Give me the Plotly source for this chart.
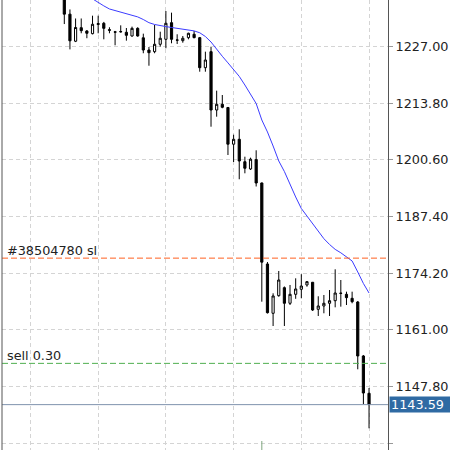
import plotly.graph_objects as go

# ---- data ----
candle_index = list(range(55))
opens = [1239.5, 1234.5, 1228.2, 1231.35, 1230.59, 1229.96, 1232.1, 1232.38, 1230.9, 1230.4,
         1230.47, 1230.28, 1229.42, 1231.2, 1229.0, 1226.16, 1225.77, 1227.49, 1228.65, 1232.52,
         1228.5, 1228.33, 1229.03, 1229.82, 1229.03, 1222.04, 1225.77, 1212.19, 1213.52, 1212.77,
         1204.23, 1205.37, 1200.15, 1198.46, 1200.64, 1195.2, 1176.34, 1164.86, 1168.96, 1170.82,
         1167.19, 1169.28, 1170.45, 1171.45, 1172.08, 1165.79, 1166.56, 1167.19, 1167.79, 1169.47,
         1169.28, 1168.35, 1167.49, 1154.92, 1146.23]
highs = [1240.2, 1235.6, 1233.5, 1233.5, 1230.8, 1234.15, 1234.15, 1232.7, 1231.45, 1230.6,
         1231.9, 1231.28, 1231.6, 1231.45, 1229.96, 1226.86, 1231.98, 1230.42, 1235.24, 1234.85,
         1229.82, 1229.42, 1230.19, 1230.59, 1229.19, 1225.77, 1226.93, 1216.69, 1215.68, 1212.9,
         1206.44, 1207.7, 1201.32, 1201.09, 1202.81, 1195.3, 1176.8, 1169.51, 1174.71, 1171.1,
         1171.45, 1173.0, 1173.96, 1172.38, 1172.15, 1168.82, 1169.12, 1170.28, 1175.1, 1172.61,
         1169.89, 1169.89, 1167.72, 1155.15, 1147.47]
lows = [1232.2, 1226.3, 1228.0, 1230.05, 1228.9, 1229.8, 1230.05, 1228.65, 1230.05, 1227.25,
        1230.2, 1228.33, 1229.26, 1229.26, 1225.4, 1222.5, 1225.4, 1226.93, 1226.56, 1227.72,
        1227.56, 1227.86, 1228.65, 1228.89, 1221.11, 1221.11, 1208.3, 1210.63, 1212.59, 1201.71,
        1200.08, 1196.06, 1197.45, 1198.22, 1194.38, 1167.56, 1164.8, 1161.9, 1168.72, 1161.9,
        1166.79, 1168.23, 1168.35, 1171.05, 1165.4, 1164.23, 1164.86, 1164.23, 1166.25, 1166.4,
        1166.79, 1167.19, 1151.82, 1143.7, 1138.08]
closes = [1234.5, 1228.3, 1231.4, 1230.66, 1230.05, 1232.15, 1232.3, 1231.2, 1230.75, 1230.3,
          1230.4, 1229.58, 1231.2, 1229.42, 1226.16, 1225.53, 1227.49, 1228.89, 1232.38, 1228.65,
          1228.45, 1228.89, 1230.05, 1229.03, 1222.04, 1223.83, 1212.19, 1213.52, 1212.82, 1204.23,
          1205.37, 1200.32, 1198.62, 1200.74, 1195.2, 1176.76, 1165.0, 1168.89, 1172.61, 1167.19,
          1169.28, 1170.52, 1171.21, 1172.22, 1165.63, 1166.56, 1167.19, 1167.79, 1169.58, 1169.54,
          1168.5, 1167.56, 1154.92, 1146.3, 1143.59]

ma_index = list(range(5, 55))
ma_values = [1238.07, 1237.2, 1236.43, 1235.71, 1235.34, 1235.01, 1234.68, 1234.31, 1233.87, 1233.26,
             1232.52, 1232.1, 1231.8, 1231.61, 1231.4, 1231.19, 1231.05, 1230.91, 1230.61, 1230.17,
             1229.3, 1228.02, 1226.3, 1224.7, 1223.16, 1221.55, 1220.02, 1218.01, 1215.92, 1213.7,
             1209.86, 1207.07, 1203.81, 1200.32, 1197.87, 1194.73, 1191.94, 1189.26, 1187.51, 1185.77,
             1183.91, 1182.23, 1180.88, 1179.74, 1178.94, 1177.97, 1177.04, 1174.48, 1171.8, 1169.58]

y_ticks = [1134.6, 1147.8, 1161.0, 1174.2, 1187.4, 1200.6, 1213.8, 1227.0]
x_grid = [-6, 6, 18, 30, 42, 54]

sl_price = 1177.7
sl_label = "#38504780 sl"
sell_price = 1153.2
sell_label = "sell 0.30"
bid_price = 1143.59
entry_index = 35

FONT = "DejaVu Sans"

fig = go.Figure()

fig.add_trace(go.Candlestick(
    x=candle_index, open=opens, high=highs, low=lows, close=closes,
    increasing=dict(line=dict(color="black", width=1), fillcolor="white"),
    decreasing=dict(line=dict(color="black", width=1), fillcolor="black"),
    whiskerwidth=0, hoverinfo="skip", showlegend=False,
))

fig.add_trace(go.Scatter(
    x=ma_index, y=ma_values, mode="lines",
    line=dict(color="#3c3cff", width=1), hoverinfo="skip", showlegend=False,
))

# reference lines
fig.add_hline(y=sl_price, line=dict(color="#ff6020", width=1, dash="6px,3px"))
fig.add_hline(y=sell_price, line=dict(color="#4fae4f", width=1, dash="6px,3px"))
fig.add_hline(y=bid_price, line=dict(color="#7f93ad", width=1))

# left border
fig.add_shape(type="line", xref="paper", yref="paper", x0=0, x1=0, y0=0, y1=1,
              line=dict(color="#555555", width=1))

# entry marker at bottom
fig.add_shape(type="line", xref="x", yref="paper", x0=entry_index, x1=entry_index,
              y0=0, y1=0.02, line=dict(color="#7fa77f", width=1))

fig.add_annotation(xref="paper", yref="y", x=0, y=sl_price, text=sl_label,
                   xanchor="left", yanchor="bottom", showarrow=False, xshift=3, yshift=-2,
                   font=dict(family=FONT, size=12.8, color="#222222"))
fig.add_annotation(xref="paper", yref="y", x=0, y=sell_price, text=sell_label,
                   xanchor="left", yanchor="bottom", showarrow=False, xshift=3, yshift=-2,
                   font=dict(family=FONT, size=12.8, color="#222222"))
fig.add_annotation(xref="paper", yref="y", x=1, y=bid_price, text=f"{bid_price:.2f}",
                   xanchor="left", yanchor="middle", showarrow=False, xshift=1,
                   bgcolor="#2f6aa3", borderpad=1, width=58, height=13, align="left",
                   font=dict(family=FONT, size=12.8, color="white"))

fig.update_layout(
    width=450, height=450,
    margin=dict(l=2, r=62, t=0, b=0),
    paper_bgcolor="white", plot_bgcolor="white",
    boxgap=0.45,
    showlegend=False,
    xaxis=dict(range=[-11.04, 57.36], tickvals=x_grid, showticklabels=False,
               showgrid=True, gridcolor="#d4d4d4", griddash="4px,3px", gridwidth=1,
               zeroline=False, showline=False, ticks="", rangeslider=dict(visible=False),
               fixedrange=True),
    yaxis=dict(range=[1133.03, 1237.8], side="right", tickvals=y_ticks, tickformat=".2f",
               showgrid=True, gridcolor="#d4d4d4", griddash="4px,3px", gridwidth=1,
               zeroline=False, showline=True, linecolor="#555555", linewidth=1,
               ticks="outside", ticklen=4, tickcolor="#999999", automargin=False,
               tickfont=dict(family=FONT, size=12.8, color="#222222"),
               fixedrange=True),
)

fig.write_html(
    "out.html",
    config={"displayModeBar": False},
    post_script="document.body.style.margin='0';document.body.style.overflow='hidden';",
)
